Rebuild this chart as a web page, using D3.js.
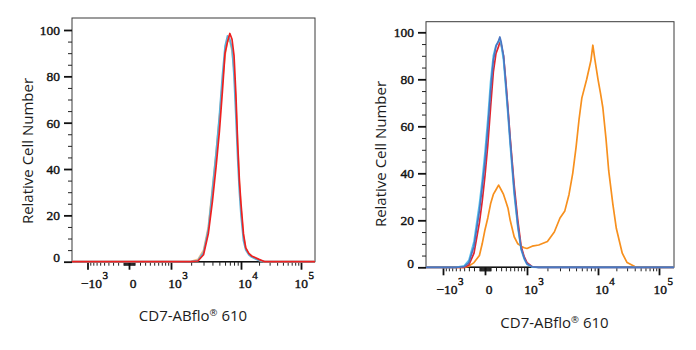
<!DOCTYPE html>
<html>
<head>
<meta charset="utf-8">
<script src="https://cdn.jsdelivr.net/npm/d3@7"></script>
<style>
  body { margin: 0; background: #fff; }
  svg { display: block; }
</style>
</head>
<body>
<div id="chart"></div>
<script>
// left histogram: fluorescence bins and relative cell counts
const binsA = [-2000, -1000, 0, 1000, 2000, 2500, 3000, 3500, 4000, 4500,
  5000, 5500, 6000, 6500, 7000, 7500, 8000, 8500, 9000, 9500,
  10000, 11000, 12000, 13500, 15000, 17500, 20000, 25000, 30000, 100000, 200000];
const peachA = [0, 0, 0, 0, 0.2, 1, 5, 15, 32, 47,
  62, 77, 89, 95.5, 95, 91, 83, 68, 50, 34,
  23, 11, 6, 3.5, 2.5, 1.5, 0.6, 0, 0, 0, 0];
const blueA = [0, 0, 0, 0, 0, 0.5, 4, 14, 31, 47,
  63, 80, 93, 97.5, 96, 92, 80, 62, 44, 30,
  20, 9, 5, 3, 2, 1.2, 0.5, 0, 0, 0, 0];
const redA = [0, 0, 0, 0, 0, 0.3, 3, 12, 26, 41,
  56, 73, 90, 95, 98.5, 96, 89, 72, 51, 35,
  25, 12, 6, 3.6, 2.5, 1.7, 1, 0, 0, 0, 0];

// right histogram
const binsB = [-2000, -1000, -600, -400, -300, -200, -100, -50, 0, 50,
  100, 150, 200, 250, 275, 300, 350, 400, 450, 500,
  600, 700, 800, 900, 1000, 1200, 1500, 2000, 2500, 3000,
  3500, 4000, 4500, 5000, 5500, 6000, 7000, 8000, 8500, 9000,
  10000, 11000, 12000, 13500, 15000, 17500, 20000, 25000, 30000, 40000,
  60000, 100000, 200000];
const orangeB = [0, 0, 0, 0, 0.5, 2, 5, 10, 16, 21,
  27, 31, 33, 35, 34, 33, 31, 28, 25, 20,
  13, 10, 9, 8.3, 8, 9, 9.5, 11, 15, 21,
  24, 31, 40, 51, 63, 72, 80, 88, 94.5, 89,
  80, 74, 68, 55, 41, 27, 16.5, 6, 2, 0.3,
  0, 0, 0];
const redB = [0, 0, 0, 0, 1, 6, 19, 28, 39, 52,
  68, 83, 91, 94, 96, 95, 90, 79, 67, 55,
  35, 20, 9, 4.5, 2, 0.3, 0, 0, 0, 0,
  0, 0, 0, 0, 0, 0, 0, 0, 0, 0,
  0, 0, 0, 0, 0, 0, 0, 0, 0, 0,
  0, 0, 0];
const cyanB = [0, 0, 0, 0.6, 3, 11, 27, 37, 49, 63,
  79, 90, 94.5, 96, 97, 95, 88, 76, 64, 52,
  31, 17, 7.5, 3.5, 1.2, 0.1, 0, 0, 0, 0,
  0, 0, 0, 0, 0, 0, 0, 0, 0, 0,
  0, 0, 0, 0, 0, 0, 0, 0, 0, 0,
  0, 0, 0];
const blueB = [0, 0, 0, 0.3, 2, 9, 24, 34, 45, 59,
  75, 88, 94, 96.5, 98, 96, 90, 78, 66, 54,
  33, 18, 8, 4, 1.5, 0.2, 0, 0, 0, 0,
  0, 0, 0, 0, 0, 0, 0, 0, 0, 0,
  0, 0, 0, 0, 0, 0, 0, 0, 0, 0,
  0, 0, 0];

// axes
const majorTicks = [-1000, 0, 1000, 10000, 100000];
const majorBase = ["\u221210", "0", "10", "10", "10"];
const majorExp = ["3", "", "3", "4", "5"];
const yTicks = [0, 20, 40, 60, 80, 100];
const yTitle = "Relative Cell Number";
const xTitle = ["CD7-ABflo", "\u00AE", " 610"];

// minor ticks: linear part near zero, log decades above
var minorTicks = [];
[10, 100].forEach(d => d3.range(1, 10).forEach(k => minorTicks.push(k * d, -k * d)));
[1000, 10000].forEach(d => d3.range(2, 10).forEach(k => minorTicks.push(k * d)));
const yMinor = d3.range(5, 100, 5).filter(v => v % 20 != 0);

const serif = "'Liberation Serif', 'Times New Roman', 'DejaVu Serif', serif";
const sans = "'Open Sans', 'Noto Sans', sans-serif";

// biexponential-like display transform
const T = v => Math.asinh(v / 550);

const panels = [
  {box: {l: 72, r: 315, t: 18, b: 261.7}, y100: 30, anchors: [87.5, 129, 171, 241, 301],
   xTitle: [193, 320.5], yTitle: [33, 151], bins: binsA,
   series: [[peachA, "#f5bd85"], [blueA, "#5ab0d8"], [redA, "#ee2020"]]},
  {box: {l: 426, r: 674, t: 21.7, b: 267.3}, y100: 32.3, anchors: [443, 485, 527, 598, 659],
   xTitle: [554.5, 328], yTitle: [386, 154], bins: binsB,
   series: [[orangeB, "#f7901e"], [redB, "#e02530"], [cyanB, "#55c3ee"], [blueB, "#4a76c2"]]}
];

const svg = d3.select("#chart")
  .append("svg")
    .attr("width", 696)
    .attr("height", 350);

// serif tick text, a bit heavy like the scanned original
function tickText(sel, size) {
  return sel
    .style("font-family", serif)
    .style("font-size", size + "px")
    .style("fill", "#111")
    .style("stroke", "#111")
    .style("stroke-width", "0.4px");
}

panels.forEach((p, pi) => {
  const b = p.box;
  const x = d3.scaleLinear().domain(majorTicks.map(T)).range(p.anchors);
  const y = d3.scaleLinear().domain([0, 100]).range([b.b, p.y100]);
  const g = svg.append("g");

  // frame
  g.append("rect")
    .attr("x", b.l).attr("y", b.t)
    .attr("width", b.r - b.l).attr("height", b.b - b.t)
    .attr("fill", "none").attr("stroke", "#3a3a3a").attr("stroke-width", 1);
  g.append("line")
    .attr("x1", b.l).attr("x2", b.r).attr("y1", b.b).attr("y2", b.b)
    .attr("stroke", "#111").attr("stroke-width", 1.6);

  // Y axis
  g.append("g")
    .attr("transform", `translate(${b.l},0)`)
    .call(d3.axisLeft(y).tickValues(yMinor).tickSize(4).tickFormat(""))
    .call(a => a.select(".domain").remove())
    .call(a => a.selectAll("line").attr("stroke", "#222").attr("stroke-width", 1));
  const yAxis = g.append("g")
    .attr("transform", `translate(${b.l},0)`)
    .call(d3.axisLeft(y).tickValues(yTicks).tickSize(8).tickPadding(4))
    .call(a => a.select(".domain").remove())
    .call(a => a.selectAll("line").attr("stroke", "#111").attr("stroke-width", 1.8));
  yAxis.selectAll("text")
    .call(tickText, 13.5)
    .attr("dy", d => d == 0 ? "-0.02em" : "0.32em");

  // X axis
  g.append("g")
    .attr("transform", `translate(0,${b.b})`)
    .call(d3.axisBottom(x).tickValues(minorTicks.map(T)).tickSize(4).tickFormat(""))
    .call(a => a.select(".domain").remove())
    .call(a => a.selectAll("line").attr("stroke", "#222").attr("stroke-width", 1));
  g.append("g")
    .attr("transform", `translate(0,${b.b})`)
    .call(d3.axisBottom(x).tickValues(majorTicks.map(T)).tickSize(8).tickFormat(""))
    .call(a => a.select(".domain").remove())
    .call(a => a.selectAll("line").attr("stroke", "#111").attr("stroke-width", 1.8));

  majorTicks.forEach((v, i) => {
    const cx = x(T(v)) + 4;
    const ly = b.b + 26.3;
    const lg = g.append("g");
    const base = lg.append("text")
      .attr("x", cx).attr("y", ly)
      .attr("text-anchor", "middle")
      .call(tickText, 13.5)
      .text(majorBase[i]);
    if (!majorExp[i]) return;
    const w = base.node().getComputedTextLength();
    const sup = lg.append("text")
      .attr("x", cx + w / 2 + 0.5).attr("y", ly - 9)
      .call(tickText, 11)
      .text(majorExp[i]);
    const end = cx + w / 2 + 0.5 + sup.node().getComputedTextLength();
    if (end > b.r - 1) lg.attr("transform", `translate(${b.r - 1 - end},0)`);
  });

  // titles
  const xt = g.append("text")
    .attr("x", p.xTitle[0]).attr("y", p.xTitle[1])
    .attr("text-anchor", "middle")
    .style("font-family", sans)
    .style("fill", "#1c1c1c")
    .style("font-size", "15px");
  xt.append("tspan").text(xTitle[0]);
  xt.append("tspan").attr("dy", -5).style("font-size", "9.5px").text(xTitle[1]);
  xt.append("tspan").attr("dy", 5).text(xTitle[2]);

  g.append("text")
    .attr("transform", `translate(${p.yTitle[0]},${p.yTitle[1]}) rotate(-90)`)
    .attr("text-anchor", "middle")
    .style("font-family", sans)
    .style("fill", "#1c1c1c")
    .style("font-size", "15px")
    .text(yTitle);

  // histograms
  svg.append("clipPath").attr("id", "clip" + pi)
    .append("rect")
      .attr("x", b.l).attr("y", b.t)
      .attr("width", b.r - b.l).attr("height", b.b - b.t + 2);

  const line = d3.line()
    .x(d => x(T(d[0])))
    .y(d => y(d[1]));

  g.append("g")
    .attr("clip-path", `url(#clip${pi})`)
    .selectAll("path")
    .data(p.series)
    .enter()
    .append("path")
      .attr("d", s => line(p.bins.map((v, i) => [v, s[0][i]])))
      .attr("fill", "none")
      .attr("stroke", s => s[1])
      .attr("stroke-width", 1.7)
      .attr("stroke-linejoin", "round");
});
</script>
</body>
</html>
